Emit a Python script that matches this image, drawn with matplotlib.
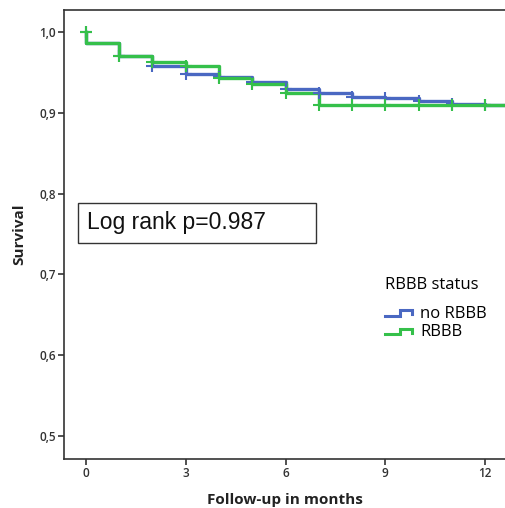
import numpy as np
import matplotlib
matplotlib.use('Agg')
import matplotlib.pyplot as plt
from matplotlib.legend_handler import HandlerBase
from matplotlib.lines import Line2D
from matplotlib.patches import Rectangle
from matplotlib.ticker import FuncFormatter

# Kaplan-Meier step data (months, survival)
months = [0, 1, 2, 3, 4, 5, 6, 7, 8, 9, 10, 11, 12, 12.7]
surv_no_rbbb = [0.986, 0.970, 0.958, 0.948, 0.944, 0.938, 0.930, 0.925, 0.920, 0.918, 0.914, 0.911, 0.910, 0.910]
surv_rbbb = [0.986, 0.970, 0.963, 0.958, 0.943, 0.936, 0.925, 0.909, 0.909, 0.909, 0.909, 0.909, 0.909, 0.909]

# censor marks
censor_t = [0, 1, 2, 3, 4, 5, 6, 7, 8, 9, 10, 11, 12]
censor_no_rbbb = [1.0, 0.970, 0.958, 0.948, 0.944, 0.938, 0.930, 0.925, 0.920, 0.918, 0.914, 0.911, 0.910]
censor_rbbb = [1.0, 0.970, 0.963, 0.958, 0.943, 0.936, 0.925, 0.909, 0.909, 0.909, 0.909, 0.909, 0.909]

group_labels = ['no RBBB', 'RBBB']
xticks = [0, 3, 6, 9, 12]
yticks = [0.5, 0.6, 0.7, 0.8, 0.9, 1.0]

blue = '#4a68c2'
green = '#35c04a'

plt.rcParams['font.family'] = ['Open Sans', 'DejaVu Sans']


class StepHandler(HandlerBase):
    # legend icon shaped like a survival step
    def create_artists(self, legend, orig_handle, xdescent, ydescent,
                       width, height, fontsize, trans):
        xs = [0, width * 0.55, width * 0.55, width, width]
        ys = [height * 0.15, height * 0.15, height * 0.65, height * 0.65, height * 0.3]
        ln = Line2D(xs, ys, color=orig_handle.get_color(), lw=2.2,
                    solid_joinstyle='miter', transform=trans)
        return [ln]


fig = plt.figure(figsize=(5.06, 5.08), dpi=100)
ax = fig.add_axes([0.1265, 0.0965, 0.8735, 0.8835])

# step curves starting at 1.0
t_full = [0] + months
l1, = ax.step(t_full, [1.0] + surv_no_rbbb, where='post', color=blue, lw=2.4)
l2, = ax.step(t_full, [1.0] + surv_rbbb, where='post', color=green, lw=2.4)
ax.plot(censor_t, censor_no_rbbb, '+', color=blue, ms=8, mew=1.5)
ax.plot(censor_t, censor_rbbb, '+', color=green, ms=8, mew=1.5)

ax.set_xlim(-0.66, 12.63)
ax.set_ylim(0.4715, 1.027)
ax.set_xticks(xticks)
ax.set_yticks(yticks)
ax.yaxis.set_major_formatter(FuncFormatter(lambda v, p: f'{v:.1f}'.replace('.', ',')))
ax.tick_params(labelsize=8.5, length=4, width=1.2, colors='#333333', pad=2)
for lab in ax.get_xticklabels() + ax.get_yticklabels():
    lab.set_fontweight('semibold')

ax.spines['right'].set_visible(False)
for s in ['left', 'top', 'bottom']:
    ax.spines[s].set_linewidth(1.2)
    ax.spines[s].set_color('#333333')

ax.set_xlabel('Follow-up in months', fontsize=11, fontweight='bold', color='#222222', labelpad=9)
ax.set_ylabel('Survival', fontsize=11, fontweight='bold', color='#222222', labelpad=9)

# log rank box
ax.add_patch(Rectangle((0.032, 0.481), 0.538, 0.089, transform=ax.transAxes,
                       fc='white', ec='#333333', lw=1, zorder=3))
ax.text(0.052, 0.526, 'Log rank p=0.987', transform=ax.transAxes, fontsize=16.5,
        va='center', ha='left', family=['Liberation Sans', 'DejaVu Sans'],
        color='#111111', zorder=4)

leg = ax.legend([l1, l2], group_labels, title='RBBB status', loc='upper left',
                bbox_to_anchor=(0.726, 0.405), frameon=False, fontsize=12,
                title_fontsize=12, handler_map={Line2D: StepHandler()},
                handlelength=1.6, handletextpad=0.5, labelspacing=0.15,
                borderpad=0, borderaxespad=0)
leg._legend_box.align = 'left'
leg._legend_box.sep = 9

fig.savefig('out.png', dpi=100)
